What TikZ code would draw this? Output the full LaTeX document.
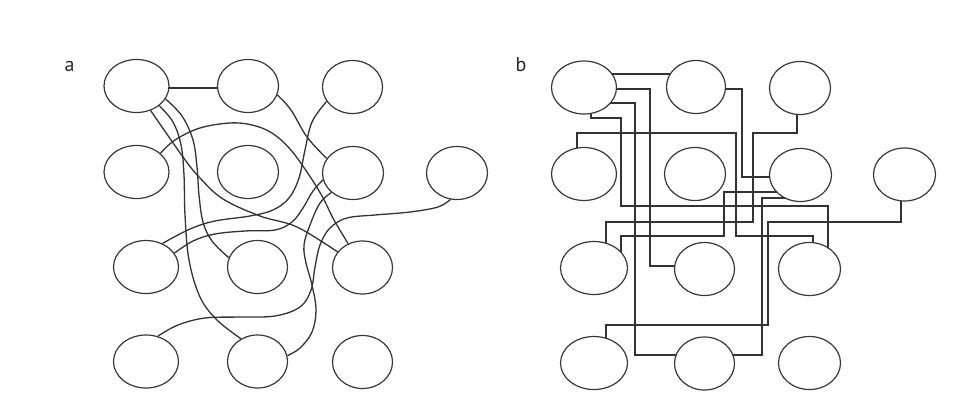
\documentclass[tikz,border=0pt]{standalone}
\usepackage{fontspec}
\setsansfont{PT Sans}
\usetikzlibrary{shapes.geometric}
\pgfdeclarelayer{bg}
\pgfsetlayers{bg,main}
\begin{document}
\begin{tikzpicture}[x=1pt,y=-1pt]
\tikzset{
 nd/.style={ellipse, draw=black!78, line width=1.2pt, fill=white, minimum width=#1, minimum height=53pt, inner sep=0pt},
 con/.style={draw=black!80, line width=1.1pt},
 crv/.style={draw=black!80, line width=1.3pt},
 sm/.style={smooth, tension=0.6},
 lbl/.style={font=\sffamily\fontsize{20}{20}\selectfont, anchor=base, text=black!85, inner sep=0pt}
}
\useasboundingbox (0,0) rectangle (956,402);
% labels
\node[lbl] (la) at (69.5,71) {a};
\node[lbl] (lb) at (521,71) {b};
% panel a nodes
\node[nd=65pt] (A1) at (136.5,86) {};
\node[nd=61pt] (A2) at (248,86) {};
\node[nd=60pt] (A3) at (352.5,87) {};
\node[nd=65pt] (B1) at (136.5,172) {};
\node[nd=61pt] (B2) at (248,172) {};
\node[nd=61pt] (B3) at (353,173) {};
\node[nd=61pt] (B4) at (457,173) {};
\node[nd=65pt] (C1) at (146,267) {};
\node[nd=60pt] (C2) at (257.5,267) {};
\node[nd=60pt] (C3) at (362.5,267.5) {};
\node[nd=65pt] (D1) at (146,361.5) {};
\node[nd=60pt] (D2) at (257.5,361.5) {};
\node[nd=60pt] (D3) at (362.5,362) {};
% panel b nodes
\node[nd=65pt] (E1) at (584,87.5) {};
\node[nd=59pt] (E2) at (696,87) {};
\node[nd=61pt] (E3) at (800,88) {};
\node[nd=65pt] (F1) at (584,174) {};
\node[nd=61pt] (F2) at (695,174) {};
\node[nd=62pt] (F3) at (800.5,175) {};
\node[nd=62pt] (F4) at (904.5,174.5) {};
\node[nd=67pt] (G1) at (594,268) {};
\node[nd=60pt] (G2) at (704.5,269) {};
\node[nd=62pt] (G3) at (809.5,269) {};
\node[nd=67pt] (H1) at (594,363) {};
\node[nd=60pt] (H2) at (704.5,363.5) {};
\node[nd=62pt] (H3) at (809.5,363) {};
\begin{pgfonlayer}{bg}
% panel a connectors
\draw[crv] (A1.center |- 0,88) -- (A2.center |- 0,88);
\draw[crv] plot[sm] coordinates {(A1.-60) (183,157) (200,178) (223,199) (260,216) (297,227) (C3.148)};
\draw[crv] plot[sm] coordinates {(A1.-24) (182,116) (193,140) (197,167) (199,195) (203,222) (212,241) (C2.162)};
\draw[crv] plot[sm] coordinates {(A1.-41) (173,122) (181,145) (184,175) (185,215) (189,260) (200,297) (217,320) (D2.126)};
\draw[crv] plot[sm] coordinates {(B1.38) (175,140) (200,128) (230,123) (252,125) (272,133) (290,149) (307,172) (322,196) (334,220) (C3.121)};
\draw[crv] plot[sm] coordinates {(A2.-17) (291,110) (307,137) (B3.151)};
\draw[crv] plot[sm] coordinates {(A3.209) (312,122) (305,150) (299,178) (289,198) (273,210) (250,216) (215,221) (190,229) (C1.55)};
\draw[crv] plot[sm] coordinates {(B3.193) (313,191) (303,208) (292,222) (275,230) (245,231) (215,234) (193,241) (C1.26)};
\draw[crv] plot[sm] coordinates {(B3.222) (320,203) (310,225) (304,245) (306,263) (312,285) (316,310) (312,332) (300,348) (D2.11)};
\draw[crv] plot[sm] coordinates {(B4.256) (438,207) (410,212) (375,215) (347,218) (330,228) (320,245) (315,267) (311,290) (300,307) (275,316) (240,317) (205,318) (178,325) (D1.65)};
% panel b connectors
\draw[con] (E1.center |- 0,74) -- (E2.center |- 0,74);
\draw[con] (E1.center |- 0,89) -| (650,266) -- (G2.center |- 0,266);
\draw[con] (E1.center |- 0,103) -| (635,355) -- (H2.center |- 0,355);
\draw[con] (E1.center -| 591,0) -- (591,118) -| (621,206) -| (G3.center -| 828,0);
\draw[con] (F1.center -| 577,0) |- (736,133) |- (813,236) -- (G3.center -| 813,0);
\draw[con] (E3.center -| 797,0) |- (753,133) |- (606,222) -- (G1.center -| 606,0);
\draw[con] (E2.center |- 0,89) -| (742,177) -- (F3.center |- 0,177);
\draw[con] (G1.center -| 621,0) |- (724,236) |- (F3.center |- 0,192);
\draw[con] (F3.center |- 0,198) -| (762,355) -- (H2.center |- 0,355);
\draw[con] (F4.center -| 901,0) |- (768,222) |- (606,325) -- (H1.center -| 606,0);
\end{pgfonlayer}
\end{tikzpicture}
\end{document}
